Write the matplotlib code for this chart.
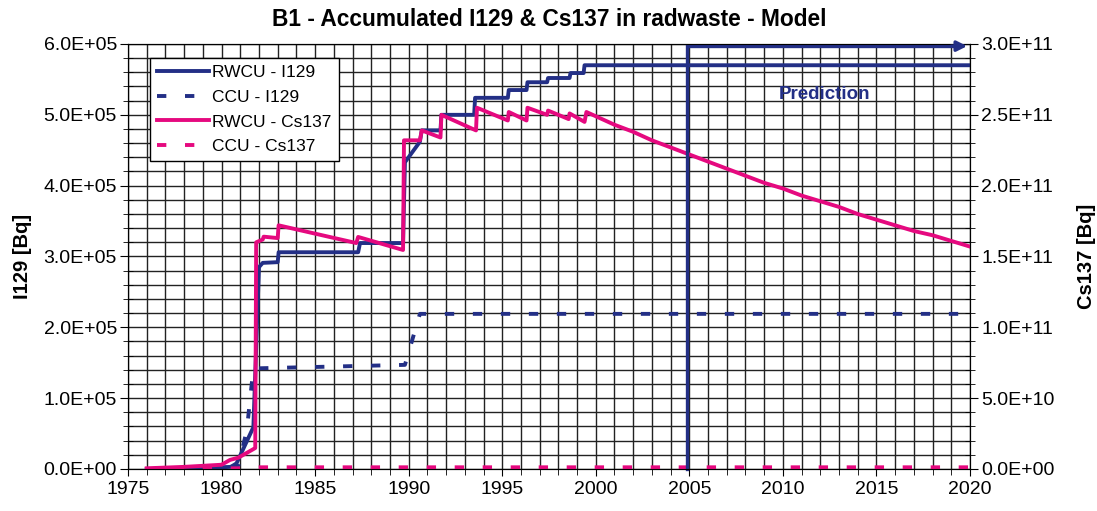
import matplotlib
matplotlib.use('Agg')
import matplotlib.pyplot as plt
from matplotlib.ticker import MultipleLocator, FormatStrFormatter

plt.rcParams['font.family'] = ['Liberation Sans', 'DejaVu Sans']

BLUE = '#232F86'
PINK = '#E5097F'

# RWCU - I129 (left axis, Bq)
rwcu_i129_years = [1976, 1978, 1980, 1980.5, 1980.8, 1981.7, 1982.0, 1982.2, 1983.0, 1983.05,
                   1987.3, 1987.4, 1989.7, 1989.8, 1990.6, 1990.7, 1991.7, 1991.75,
                   1993.5, 1993.55, 1995.3, 1995.35, 1996.3, 1996.35, 1997.4, 1997.45,
                   1998.6, 1998.65, 1999.35, 1999.4, 2020]
rwcu_i129 = [0, 1000, 2500, 3000, 8000, 59000, 285000, 291000, 292000, 306000,
             306000, 319000, 319000, 433000, 462000, 478000, 478000, 500000,
             500000, 524000, 524000, 535000, 535000, 546000, 546000, 552000,
             552000, 559000, 559000, 570000, 570000]

# CCU - I129 (left axis, Bq)
ccu_i129_years = [1976, 1980, 1980.9, 1981.1, 1981.35, 1981.7, 1989.8, 1990.3, 1990.6, 2020]
ccu_i129 = [0, 1000, 5000, 27000, 55000, 142000, 147000, 192000, 219000, 219000]

# RWCU - Cs137 (right axis, Bq)
rwcu_cs137_years = [1976, 1978, 1980, 1980.45, 1980.9, 1981.8, 1981.85, 1982.2, 1982.25, 1983.0, 1983.05,
                    1987.2, 1987.3, 1989.7, 1989.75, 1990.6, 1990.7, 1991.7, 1991.75,
                    1993.6, 1993.65, 1995.3, 1995.35, 1996.3, 1996.35, 1997.4, 1997.45,
                    1998.55, 1998.6, 1999.4, 1999.5,
                    2000, 2001, 2002, 2003, 2004, 2005, 2006, 2007, 2008, 2009, 2010,
                    2011, 2012, 2013, 2014, 2015, 2016, 2017, 2018, 2019, 2020]
rwcu_cs137 = [0.5e9, 1.5e9, 3e9, 6.4e9, 8e9, 14.8e9, 160e9, 162e9, 164e9, 163e9, 172e9,
              159.5e9, 163.8e9, 154.6e9, 232e9, 232e9, 239e9, 234e9, 250e9,
              239e9, 255e9, 246e9, 252e9, 246e9, 255e9, 250e9, 253e9,
              247e9, 251e9, 245e9, 252e9,
              249e9, 243e9, 238e9, 232e9, 227e9, 222e9, 217e9, 212e9, 207e9, 202e9, 198e9,
              193e9, 189e9, 185e9, 180e9, 176e9, 172e9, 168e9, 165e9, 161e9, 157e9]

# CCU - Cs137 (right axis, Bq)
ccu_cs137_years = [1976, 1981, 1982, 2020]
ccu_cs137 = [0, 0.5e9, 1.2e9, 1.2e9]

prediction_year = 2004.9

fig = plt.figure(figsize=(10.97, 5.11), dpi=100)
ax = fig.add_axes([0.1167, 0.0822, 0.7675, 0.8317])
ax2 = ax.twinx()

ax.set_xlim(1975, 2020)
ax.set_ylim(0, 6e5)
ax2.set_ylim(0, 3e11)

ax.xaxis.set_major_locator(MultipleLocator(5))
ax.xaxis.set_minor_locator(MultipleLocator(1))
ax.yaxis.set_major_locator(MultipleLocator(1e5))
ax.yaxis.set_minor_locator(MultipleLocator(2e4))
ax.yaxis.set_major_formatter(FormatStrFormatter('%.1E'))
ax2.yaxis.set_major_locator(MultipleLocator(5e10))
ax2.yaxis.set_minor_locator(MultipleLocator(1e10))
ax2.yaxis.set_major_formatter(FormatStrFormatter('%.1E'))

ax.grid(True, which='both', color='#222222', lw=1.0)
ax.set_axisbelow(True)

ax.tick_params(axis='both', which='both', labelsize=14, color='black')
ax.tick_params(axis='y', which='major', direction='out', length=6, pad=2)
ax.tick_params(axis='y', which='minor', direction='inout', length=7)
ax.tick_params(axis='x', which='major', direction='out', length=5)
ax.tick_params(axis='x', which='minor', direction='out', length=4)
ax2.tick_params(axis='y', which='major', direction='out', length=6, labelsize=14, pad=2)
ax2.tick_params(axis='y', which='minor', direction='inout', length=7)

l1, = ax.plot(rwcu_i129_years, rwcu_i129, color=BLUE, lw=2.8, label='RWCU - I129')
l2, = ax.plot(ccu_i129_years, ccu_i129, color=BLUE, lw=2.8, dashes=(2.4, 4.8),
              label='CCU - I129')
l3, = ax2.plot(rwcu_cs137_years, rwcu_cs137, color=PINK, lw=2.8, label='RWCU - Cs137')
l4, = ax2.plot(ccu_cs137_years, ccu_cs137, color=PINK, lw=2.8, dashes=(2.4, 4.8),
               label='CCU - Cs137')

# prediction marker
ax2.plot([prediction_year, prediction_year, 2019.3], [0, 2.985e11, 2.985e11],
         color=BLUE, lw=2.4, clip_on=False, solid_joinstyle='miter')
ax2.annotate('', xy=(2019.85, 2.985e11), xytext=(2019.0, 2.985e11),
             arrowprops=dict(arrowstyle='-|>,head_length=0.6,head_width=0.3',
                             color=BLUE, lw=2.4, shrinkA=0, shrinkB=0),
             annotation_clip=False)
ax2.text(2012.25, 2.64e11, 'Prediction', color=BLUE, fontsize=13.5,
         fontweight='bold', ha='center', va='center')

ax.set_ylabel('I129 [Bq]', fontsize=14.5, fontweight='bold', labelpad=8)
ax2.set_ylabel('Cs137 [Bq]', fontsize=14.5, fontweight='bold', labelpad=16)
ax.set_title('B1 - Accumulated I129 & Cs137 in radwaste - Model', fontsize=16.4,
             fontweight='bold', pad=13)

leg = ax2.legend(handles=[l1, l2, l3, l4], loc='upper left', bbox_to_anchor=(0.026, 0.967),
                 fontsize=12.5, frameon=True, fancybox=False, framealpha=1,
                 edgecolor='black', handlelength=3.0, borderpad=0.4,
                 labelspacing=0.55, handletextpad=0.2, borderaxespad=0)
leg.get_frame().set_linewidth(1.0)

fig.savefig('out.png', dpi=100)
